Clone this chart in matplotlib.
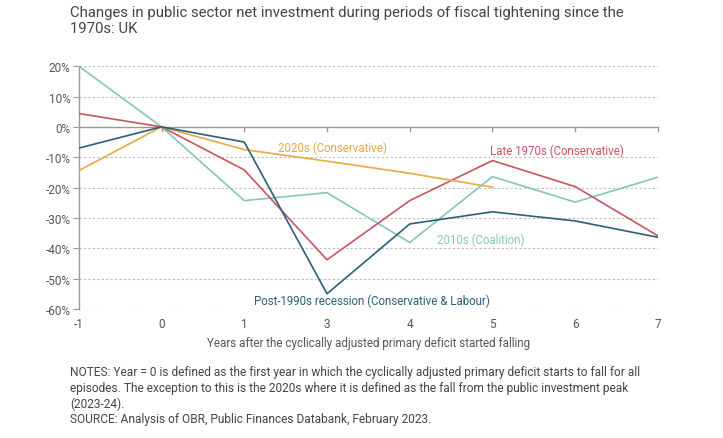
import matplotlib
matplotlib.use('Agg')
import matplotlib.pyplot as plt

# years after the cyclically adjusted primary deficit started falling (no year 2)
years = ['-1', '0', '1', '3', '4', '5', '6', '7']

post_1990s = [-7, 0, -5, -55, -32, -28, -31, -36.4]
late_1970s = [4.4, 0, -14.2, -43.8, -24.3, -11.1, -19.7, -35.9]
coalition_2010s = [20, 0, -24.3, -21.7, -38.1, -16.4, -24.8, -16.6]
conservative_2020s = [-14.4, 0, -7.5, -11.3, -15.3, -19.9]

y_ticks = [20, 10, 0, -10, -20, -30, -40, -50, -60]

c_blue = '#2b5f78'
c_red = '#c9545e'
c_teal = '#84c7b5'
c_orange = '#e7aa3f'
c_grey = '#999999'
c_text = '#555555'

plt.rcParams['font.family'] = ['Roboto', 'DejaVu Sans']

fig = plt.figure(figsize=(7.23, 4.39), dpi=100)
ax = fig.add_axes([0.109, 0.294, 0.801, 0.553])

x = list(range(len(years)))

# dotted grid, solid zero line
for v in y_ticks:
    if v == 0:
        ax.axhline(0, color=c_grey, lw=1.0, zorder=1)
    else:
        ax.axhline(v, color='#bbbbbb', lw=0.8, ls=(0, (2, 2)), zorder=1)

ax.plot(x, coalition_2010s, color=c_teal, lw=1.2, zorder=3)
ax.plot(x, late_1970s, color=c_red, lw=1.2, zorder=3)
ax.plot(x[:len(conservative_2020s)], conservative_2020s, color=c_orange, lw=1.2, zorder=3)
ax.plot(x, post_1990s, color=c_blue, lw=1.2, zorder=4)

# tick marks along the zero line
for xi in x[1:]:
    ax.plot([xi, xi], [0, -1.3], color=c_grey, lw=1.0, zorder=2, clip_on=False)

lab = 8.3
ax.text(3.07, -6.6, '2020s (Conservative)', color=c_orange, fontsize=lab, ha='center', va='center')
ax.text(4.97, -7.8, 'Late 1970s (Conservative)', color=c_red, fontsize=lab, ha='left', va='center')
ax.text(4.33, -37.2, '2010s (Coalition)', color=c_teal, fontsize=lab, ha='left', va='center')
ax.text(2.12, -57.3, 'Post-1990s recession (Conservative & Labour)', color=c_blue, fontsize=lab,
        ha='left', va='center')

ax.set_xlim(0, len(years) - 1)
ax.set_ylim(-60, 20)
ax.set_xticks(x)
ax.set_xticklabels(years)
ax.set_yticks(y_ticks)
ax.set_yticklabels(['%d%%' % v for v in y_ticks])

for s in ['top', 'right', 'bottom']:
    ax.spines[s].set_visible(False)
ax.spines['left'].set_color(c_grey)
ax.spines['left'].set_linewidth(1.0)
ax.tick_params(axis='y', length=4, color=c_grey, labelsize=8.5, labelcolor=c_text, pad=2)
ax.tick_params(axis='x', length=0, labelsize=8.5, labelcolor=c_text, pad=6)

ax.set_xlabel('Years after the cyclically adjusted primary deficit started falling',
              fontsize=8.4, color=c_text, labelpad=4)

fig.text(0.097, 0.986, 'Changes in public sector net investment during periods of fiscal tightening since the\n1970s: UK',
         fontsize=10.7, color='#444444', ha='left', va='top', linespacing=1.15)

fig.text(0.097, 0.166,
         'NOTES: Year = 0 is defined as the first year in which the cyclically adjusted primary deficit starts to fall for all\n'
         'episodes. The exception to this is the 2020s where it is defined as the fall from the public investment peak\n'
         '(2023-24).\n'
         'SOURCE: Analysis of OBR, Public Finances Databank, February 2023.',
         fontsize=8.6, color='#444444', ha='left', va='top', linespacing=1.25)

fig.savefig('out.png', dpi=100)
